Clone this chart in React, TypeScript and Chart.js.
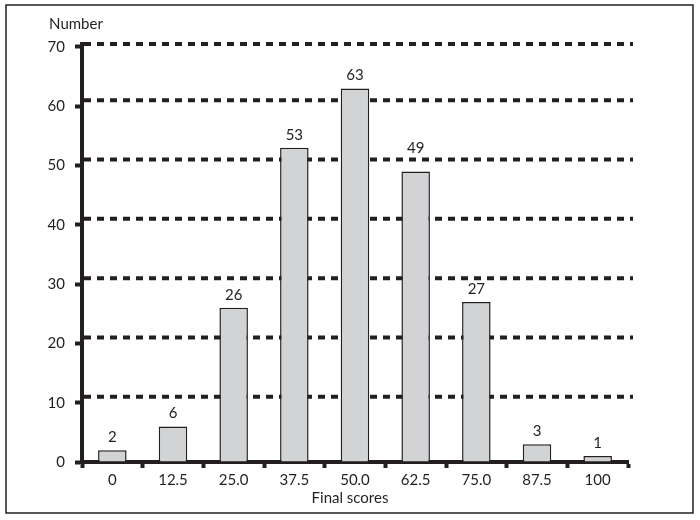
import React, { useEffect, useRef } from "react";
import { Chart, registerables } from "chart.js";

Chart.register(...registerables);

const categories = ["0", "12.5", "25.0", "37.5", "50.0", "62.5", "75.0", "87.5", "100"];
const counts = [2, 6, 26, 53, 63, 49, 27, 3, 1];
const yTicks = [0, 10, 20, 30, 40, 50, 60, 70];
const yTitle = "Number";
const xTitle = "Final scores";

const INK = "#231f20";
const FONT = "Lato, 'Noto Sans', sans-serif";

function gridLineYs(chart: any): number[] {
  const { chartArea } = chart;
  const y = chart.scales.y;
  return yTicks
    .filter((v) => v !== 0)
    .map((v) => Math.max(chartArea.top, y.getPixelForValue(v) - 6));
}

const decorPlugin = {
  id: "decor",
  beforeDatasetsDraw(chart: any) {
    const { ctx, chartArea } = chart;
    ctx.save();
    ctx.strokeStyle = INK;
    ctx.lineWidth = 4;
    ctx.setLineDash([7, 6]);
    for (const py of gridLineYs(chart)) {
      ctx.beginPath();
      ctx.moveTo(chartArea.left + 2, py);
      ctx.lineTo(chartArea.right + 5, py);
      ctx.stroke();
    }
    ctx.restore();
  },
  afterDatasetsDraw(chart: any) {
    const { ctx, chartArea } = chart;
    const meta = chart.getDatasetMeta(0);
    const lines = gridLineYs(chart);
    ctx.save();
    ctx.fillStyle = INK;
    ctx.font = `15px ${FONT}`;
    ctx.textAlign = "center";
    ctx.textBaseline = "middle";
    meta.data.forEach((bar: any, i: number) => {
      let ly = bar.y - 13;
      for (const g of lines) {
        if (Math.abs(ly - g) < 9) ly = g - 11;
      }
      ctx.fillText(String(counts[i]), bar.x, ly);
    });
    // axis titles
    ctx.fillText(yTitle, chartArea.left - 6, chartArea.top - 20);
    ctx.fillText(xTitle, (chartArea.left + chartArea.right) / 2 - 5, chartArea.bottom + 36);
    // frame
    ctx.strokeStyle = INK;
    ctx.lineWidth = 1.5;
    ctx.setLineDash([]);
    ctx.strokeRect(6, 5, 687, 508);
    ctx.restore();
  },
};

export default function App() {
  const ref = useRef<HTMLCanvasElement | null>(null);

  useEffect(() => {
    document.body.style.margin = "0";
    const canvas = ref.current;
    if (!canvas) return;
    const chart = new Chart(canvas, {
      type: "bar",
      data: {
        labels: categories,
        datasets: [
          {
            data: counts,
            backgroundColor: "#d1d3d4",
            borderColor: INK,
            borderWidth: 1.5,
            categoryPercentage: 1,
            barPercentage: 0.47,
          },
        ],
      },
      options: {
        animation: false,
        responsive: false,
        maintainAspectRatio: false,
        layout: { padding: { top: 44, right: 72, bottom: 0, left: 0 } },
        plugins: {
          legend: { display: false },
          tooltip: { enabled: false },
          title: { display: false },
        },
        scales: {
          x: {
            offset: true,
            grid: {
              offset: true,
              drawOnChartArea: false,
              drawTicks: true,
              tickLength: 6,
              tickWidth: 4,
              tickColor: INK,
            },
            border: { display: true, color: INK, width: 4 },
            ticks: {
              color: INK,
              font: { family: FONT, size: 15 },
              padding: 3,
              maxRotation: 0,
              autoSkip: false,
            },
            afterFit(scale: any) {
              scale.height = 58;
            },
          },
          y: {
            min: 0,
            max: 70.5,
            afterBuildTicks(scale: any) {
              scale.ticks = yTicks.map((v) => ({ value: v }));
            },
            grid: {
              drawOnChartArea: false,
              drawTicks: true,
              tickLength: 7,
              tickWidth: 4,
              tickColor: INK,
            },
            border: { display: true, color: INK, width: 4 },
            ticks: {
              color: INK,
              font: { family: FONT, size: 15 },
              padding: 10,
            },
            afterFit(scale: any) {
              scale.width = 82;
            },
          },
        },
      },
      plugins: [decorPlugin],
    });
    return () => chart.destroy();
  }, []);

  return (
    <div style={{ width: 700, height: 520 }}>
      <canvas ref={ref} width={700} height={520} style={{ display: "block" }} />
    </div>
  );
}
